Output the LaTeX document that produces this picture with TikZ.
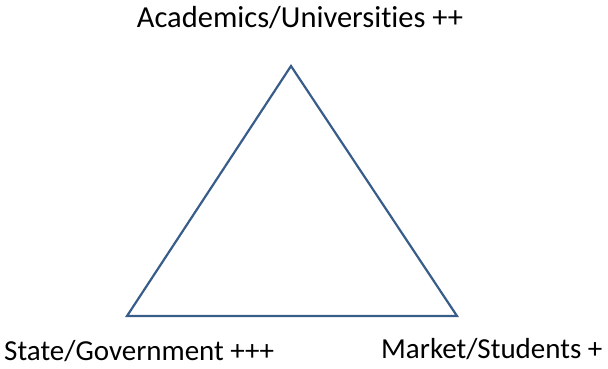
\documentclass[tikz,border=0pt]{standalone}
\usepackage{fontspec}
\setmainfont[RawFeature=-liga]{Carlito}
\begin{document}
\begin{tikzpicture}[x=1pt,y=1pt,
  edge/.style={draw={rgb,255:red,56;green,93;blue,138}, line width=2.2pt, line join=miter},
  label/.style={inner sep=0pt, font=\fontsize{29}{35}\selectfont}]
  \useasboundingbox (0,0) rectangle (608,368);
  % corners of the triangle
  \coordinate (top) at (291,302);
  \coordinate (left) at (127,52);
  \coordinate (right) at (457,52);
  \draw[edge] (top) -- (left) -- (right) -- cycle;
  % corner captions
  \node[label, anchor=base, font=\fontsize{30.5}{36}\selectfont] (acad) at (300,341) {Academics/Universities ++};
  \node[label, anchor=base west] (state) at (4,8) {State/Government +++};
  \node[label, anchor=base west] (market) at (381,10) {Market/Students +};
\end{tikzpicture}
\end{document}
